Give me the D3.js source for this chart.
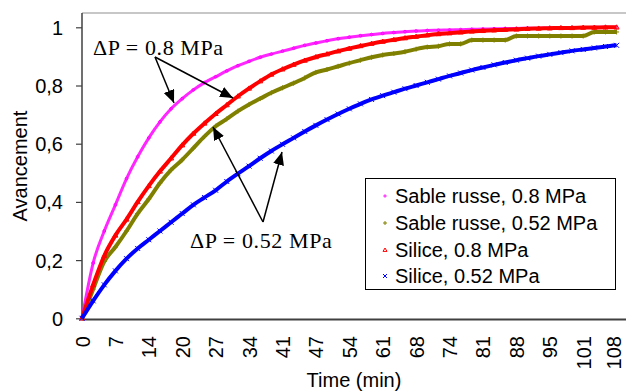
<!DOCTYPE html>
<html>
<head>
<meta charset="utf-8">
<script src="https://cdn.jsdelivr.net/npm/d3@7"></script>
<style>
  body { margin: 0; background: #fff; }
  svg text { font-family: "Liberation Sans", Arial, sans-serif; }
</style>
</head>
<body>
<svg id="chart" width="626" height="392"></svg>
<script>
// time (min) of the read points
const times = [0, 2.25, 4.5, 6.75, 9, 11.25, 13.5, 15.75, 18, 20.25, 22.5, 24.75, 27, 29.25, 31.5, 33.75,
  36, 38.25, 40.5, 42.75, 45, 47.25, 49.5, 51.75, 54, 56.25, 58.5, 60.75, 63, 65.25, 67.5, 69.75,
  72, 74.25, 76.5, 78.75, 81, 83.25, 85.5, 87.75, 90, 92.25, 94.5, 96.75, 99, 101.25, 103.5, 105.75, 108];

const sableRusse08 = [0, 0.19, 0.30, 0.39, 0.48, 0.555, 0.62, 0.675, 0.72, 0.755, 0.785, 0.81, 0.83, 0.85, 0.868, 0.883,
  0.897, 0.908, 0.918, 0.928, 0.938, 0.946, 0.954, 0.961, 0.966, 0.971, 0.975, 0.979, 0.982, 0.985, 0.987, 0.989,
  0.99, 0.991, 0.992, 0.993, 0.994, 0.995, 0.996, 0.996, 0.997, 0.997, 0.998, 0.998, 0.999, 0.999, 1.0, 1.0, 1.0];

const sableRusse052 = [0, 0.10, 0.195, 0.245, 0.30, 0.36, 0.41, 0.465, 0.51, 0.545, 0.585, 0.625, 0.66, 0.685, 0.712, 0.735,
  0.755, 0.775, 0.792, 0.808, 0.826, 0.845, 0.855, 0.866, 0.877, 0.887, 0.897, 0.905, 0.91, 0.916, 0.925, 0.932,
  0.935, 0.943, 0.943, 0.956, 0.956, 0.956, 0.956, 0.97, 0.97, 0.97, 0.97, 0.97, 0.97, 0.97, 0.984, 0.984, 0.984];

const silice08 = [0, 0.115, 0.215, 0.285, 0.34, 0.40, 0.455, 0.505, 0.55, 0.595, 0.635, 0.67, 0.703, 0.733, 0.763, 0.79,
  0.815, 0.838, 0.856, 0.872, 0.886, 0.898, 0.908, 0.918, 0.927, 0.936, 0.944, 0.951, 0.957, 0.963, 0.968, 0.973,
  0.977, 0.98, 0.983, 0.986, 0.988, 0.99, 0.992, 0.993, 0.995, 0.996, 0.997, 0.998, 0.998, 0.999, 0.999, 1.0, 1.0];

const silice052 = [0, 0.06, 0.115, 0.163, 0.205, 0.24, 0.27, 0.30, 0.33, 0.36, 0.39, 0.415, 0.44, 0.47, 0.497, 0.523,
  0.55, 0.575, 0.598, 0.62, 0.642, 0.663, 0.683, 0.702, 0.72, 0.737, 0.752, 0.765, 0.777, 0.789, 0.80, 0.811,
  0.822, 0.833, 0.843, 0.853, 0.862, 0.871, 0.879, 0.887, 0.894, 0.901, 0.907, 0.913, 0.919, 0.924, 0.929, 0.934, 0.938];

const seriesNames = ['Sable russe, 0.8 MPa', 'Sable russe, 0.52 MPa', 'Silice, 0.8 MPa', 'Silice, 0.52 MPa'];

// category axis: a label every 6.75 min
const xTicks = [0, 6.75, 13.5, 20.25, 27, 33.75, 40.5, 47.25, 54, 60.75, 67.5, 74.25, 81, 87.75, 94.5, 101.25, 108];
const xTickLabels = ['0', '7', '14', '20', '27', '34', '41', '47', '54', '61', '68', '74', '81', '88', '95', '101', '108'];
const yTicks = [0, 0.2, 0.4, 0.6, 0.8, 1];
const yTickLabels = ['0', '0,2', '0,4', '0,6', '0,8', '1'];

const svg = d3.select('#chart');
const plotL = 82, plotR = 626, plotT = 13, plotB = 319;

const x = d3.scaleLinear().domain([0, 109.9]).range([plotL, plotR]);
const y = d3.scaleLinear().domain([0, 1]).range([318.3, 27.3]);

// top frame line
svg.append('line')
  .attr('x1', plotL).attr('x2', plotR).attr('y1', plotT).attr('y2', plotT)
  .attr('stroke', '#b4b4b4').attr('stroke-width', 1.5);

// y axis
const yAxis = svg.append('g')
  .attr('transform', `translate(${plotL},0)`)
  .call(d3.axisLeft(y).tickValues(yTicks).tickSize(6).tickSizeOuter(0)
    .tickFormat((d, i) => yTickLabels[i]));
yAxis.select('.domain').attr('d', `M0,${plotT}V${plotB}`).attr('stroke', '#404040').attr('stroke-width', 1.5);
yAxis.selectAll('.tick line').attr('stroke', '#404040').attr('stroke-width', 1.2);
yAxis.selectAll('.tick text')
  .attr('x', -19).attr('dy', '0.35em')
  .style('font-size', '20px').attr('fill', '#000');

// x axis
const xAxis = svg.append('g')
  .attr('transform', `translate(0,${plotB})`)
  .call(d3.axisBottom(x).tickValues(xTicks).tickSize(0).tickSizeOuter(0)
    .tickFormat((d, i) => xTickLabels[i]));
xAxis.select('.domain').attr('stroke', '#404040').attr('stroke-width', 2);
xAxis.selectAll('.tick text')
  .attr('transform', 'rotate(-90)')
  .attr('x', -17).attr('y', 0).attr('dy', '0.35em')
  .style('text-anchor', 'end')
  .style('font-size', '20px').attr('fill', '#000');
// last label sits on the window edge, pull it in a touch
xAxis.selectAll('.tick text').filter((d, i) => i === xTicks.length - 1)
  .attr('y', -3);

// axis titles
svg.append('text')
  .attr('transform', 'translate(27,166) rotate(-90)')
  .attr('text-anchor', 'middle')
  .style('font-size', '20px')
  .text('Avancement');

svg.append('text')
  .attr('x', 354).attr('y', 387)
  .attr('text-anchor', 'middle')
  .style('font-size', '20px')
  .text('Time (min)');

// series
const series = [
  { name: seriesNames[0], values: sableRusse08, color: '#ff00ff', marker: 'circle' },
  { name: seriesNames[1], values: sableRusse052, color: '#808000', marker: 'plus' },
  { name: seriesNames[2], values: silice08, color: '#ff0000', marker: 'triangle' },
  { name: seriesNames[3], values: silice052, color: '#0000ff', marker: 'cross' }
];

function drawMarker(g, type, color, px, py, s) {
  if (type === 'circle') {
    g.append('circle').attr('cx', px).attr('cy', py).attr('r', s * 0.55)
      .attr('fill', 'none').attr('stroke', color).attr('stroke-width', 1);
  } else if (type === 'plus') {
    g.append('path').attr('d', `M${px - s},${py}H${px + s}M${px},${py - s}V${py + s}`)
      .attr('stroke', color).attr('stroke-width', 1);
  } else if (type === 'triangle') {
    g.append('path').attr('d', `M${px},${py - s}L${px + s},${py + s * 0.7}L${px - s},${py + s * 0.7}Z`)
      .attr('fill', 'none').attr('stroke', color).attr('stroke-width', 1);
  } else {
    g.append('path').attr('d', `M${px - s},${py - s}L${px + s},${py + s}M${px + s},${py - s}L${px - s},${py + s}`)
      .attr('stroke', color).attr('stroke-width', 1);
  }
}

const line = d3.line()
  .x((d, i) => x(times[i]))
  .y(d => y(d))
  .curve(d3.curveMonotoneX);

const plot = svg.append('g');
series.forEach(s => {
  plot.append('path')
    .datum(s.values)
    .attr('d', line)
    .attr('fill', 'none')
    .attr('stroke', s.color)
    .attr('stroke-width', s.marker === 'circle' ? 3 : 4)
    .attr('stroke-opacity', s.marker === 'circle' ? 0.85 : 1);
  const mg = plot.append('g');
  s.values.forEach((v, i) => drawMarker(mg, s.marker, s.color, x(times[i]), y(v), 2.5));
});

// annotations
const ann = svg.append('g');
ann.append('defs').append('marker')
  .attr('id', 'head')
  .attr('viewBox', '0 0 10 10')
  .attr('refX', 10).attr('refY', 5)
  .attr('markerWidth', 13).attr('markerHeight', 11)
  .attr('markerUnits', 'userSpaceOnUse')
  .attr('orient', 'auto')
  .attr('preserveAspectRatio', 'none')
  .append('path').attr('d', 'M0,0L10,5L0,10Z').attr('fill', '#000');

function arrow(x1, y1, x2, y2) {
  ann.append('line')
    .attr('x1', x1).attr('y1', y1).attr('x2', x2).attr('y2', y2)
    .attr('stroke', '#000').attr('stroke-width', 1.5)
    .attr('marker-end', 'url(#head)');
}

arrow(155, 57, 174, 103);
arrow(155, 57, 233, 98);
arrow(263, 222, 213, 127);
arrow(263, 222, 282, 152);

ann.append('text')
  .attr('x', 93).attr('y', 55)
  .style('font-family', '"Liberation Serif", "Times New Roman", serif')
  .style('font-size', '22px')
  .style('letter-spacing', '0.6px')
  .text('ΔP = 0.8 MPa');

ann.append('text')
  .attr('x', 190).attr('y', 248)
  .style('font-family', '"Liberation Serif", "Times New Roman", serif')
  .style('font-size', '22px')
  .style('letter-spacing', '0.6px')
  .text('ΔP = 0.52 MPa');

// legend
const legend = svg.append('g');
legend.append('rect')
  .attr('x', 365.5).attr('y', 178.5).attr('width', 250).attr('height', 111)
  .attr('fill', '#fff').attr('stroke', '#000').attr('stroke-width', 1);

const legendBaselines = [203, 230, 257, 283];
series.forEach((s, i) => {
  drawMarker(legend, s.marker, s.color, 385, legendBaselines[i] - 7, 2);
  legend.append('text')
    .attr('x', 395).attr('y', legendBaselines[i])
    .style('font-size', '20px')
    .text(s.name);
});
</script>
</body>
</html>
